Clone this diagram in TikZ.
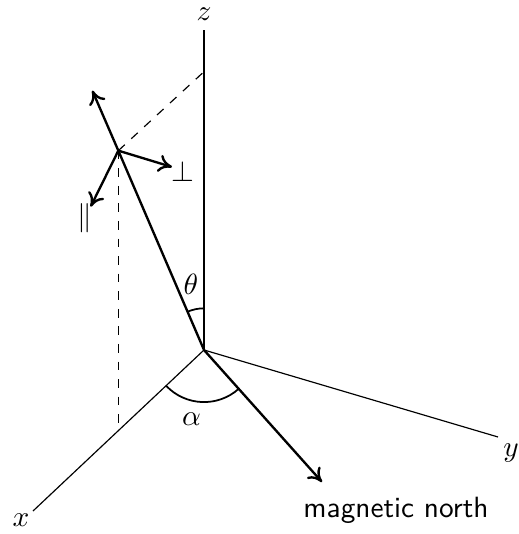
\documentclass[tikz,border=0pt]{standalone}
\usetikzlibrary{arrows.meta}

\begin{document}
\begin{tikzpicture}[
      axis/.style={thin},
      vec/.style={thick},
      arr/.style={-{To[length=4.6pt, width=6pt]}, thick},
      proj/.style={dashed, thin},
      ang/.style={semithick},
      lbl/.style={inner sep=1pt}
    ]
    \useasboundingbox (-2.448,-2.208) rectangle (3.768,4.2);

    \coordinate (o)    at (0,0);
    \coordinate (zend) at (0,3.84);
    \coordinate (yend) at (3.528,-1.044);
    \coordinate (xend) at (-2.052,-1.932);
    \coordinate (nend) at (1.416,-1.584);
    \coordinate (p)    at (-1.028,2.392);
    \coordinate (pz)   at (0,3.34);
    \coordinate (px)   at (-1.028,-0.968);
    \coordinate (up)   at (-1.34,3.112);
    \coordinate (perp) at (-0.384,2.196);
    \coordinate (par)  at (-1.36,1.72);

    % axes
    \draw[axis] (o) -- (zend);
    \draw[axis] (o) -- (yend);
    \draw[axis] (o) -- (xend);
    \node[lbl] (zl) at (0,4.032)      {$z$};
    \node[lbl] (yl) at (3.684,-1.236) {$y$};
    \node[lbl] (xl) at (-2.196,-2.04) {$x$};

    % projections
    \draw[proj] (p) -- (pz);
    \draw[proj] (p) -- (px);

    % field direction
    \draw[vec] (o) -- (p);
    \draw[arr] (o) -- (nend);
    \node[lbl, font=\sffamily] (north) at (2.304,-1.92) {magnetic north};

    % components at p
    \draw[arr] (p) -- (up);
    \draw[arr] (p) -- (perp);
    \draw[arr] (p) -- (par);
    \node[lbl] (perpl) at (-0.252,2.148) {$\perp$};
    \node[lbl] (parl)  at (-1.428,1.584) {$\parallel$};

    % angles
    \draw[ang] (o) ++(90:0.5) arc[start angle=90, end angle=113.25, radius=0.5];
    \draw[ang] (o) ++(223.3:0.625) arc[start angle=223.3, end angle=311.8, radius=0.625];
    \node[lbl] (theta) at (-0.156,0.792) {$\theta$};
    \node[lbl] (alpha) at (-0.15,-0.834) {$\alpha$};
  \end{tikzpicture}
\end{document}
